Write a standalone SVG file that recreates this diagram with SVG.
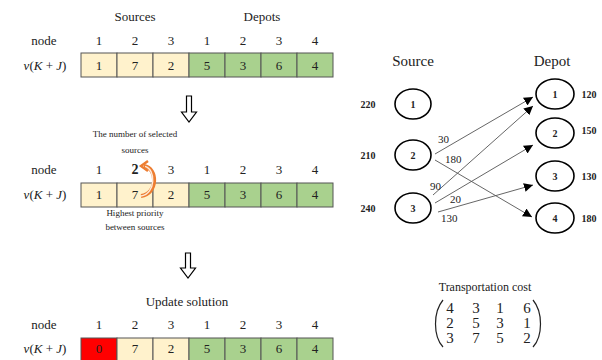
<svg xmlns="http://www.w3.org/2000/svg" width="602" height="360" viewBox="0 0 602 360">
<defs>
<style>
.t{font-family:"Liberation Serif","Times New Roman",serif;fill:#222}
.c{font-size:13px;text-anchor:middle}
.s{fill:#FFF2CC;stroke:#555;stroke-width:1}
.g{fill:#A9D18E;stroke:#555;stroke-width:1}
.r{fill:#FF0000;stroke:#555;stroke-width:1}
.nd{fill:#fff;stroke:#000;stroke-width:1.6}
.b{font-weight:bold;font-size:10px}
.e{stroke:#555;stroke-width:0.9;fill:none;marker-end:url(#ah)}
.el{font-size:11px}
.ha{fill:#fff;stroke:#000;stroke-width:1.2}
</style>
<marker id="ah" viewBox="0 0 10 10" refX="10" refY="5" markerWidth="9" markerHeight="9" markerUnits="userSpaceOnUse" orient="auto">
<path d="M0,0 L10,5 L0,10 z" fill="#000"/>
</marker>
<marker id="oh" viewBox="0 0 10 10" refX="5" refY="5" markerWidth="10" markerHeight="10" markerUnits="userSpaceOnUse" orient="auto">
<path d="M0,0 L10,5 L0,10" fill="none" stroke="#ED7D31" stroke-width="2.5"/>
</marker>
</defs>

<!-- Row 1 -->
<g id="row1">
<text class="t c" x="135" y="21">Sources</text>
<text class="t c" x="262" y="21">Depots</text>
<text class="t c" x="44" y="45">node</text>
<g class="t c">
<text x="99" y="45">1</text><text x="135" y="45">2</text><text x="171" y="45">3</text><text x="207" y="45">1</text><text x="243" y="45">2</text><text x="279" y="45">3</text><text x="315" y="45">4</text>
</g>
<text class="t c" x="45" y="70"><tspan font-style="italic">ν</tspan>(<tspan font-style="italic">K</tspan> + <tspan font-style="italic">J</tspan>)</text>
<rect class="s" x="81" y="53" width="36" height="24"/><rect class="s" x="117" y="53" width="36" height="24"/><rect class="s" x="153" y="53" width="36" height="24"/>
<rect class="g" x="189" y="53" width="36" height="24"/><rect class="g" x="225" y="53" width="36" height="24"/><rect class="g" x="261" y="53" width="36" height="24"/><rect class="g" x="297" y="53" width="36" height="24"/>
<g class="t c">
<text x="99" y="70">1</text><text x="135" y="70">7</text><text x="171" y="70">2</text><text x="207" y="70">5</text><text x="243" y="70">3</text><text x="279" y="70">6</text><text x="315" y="70">4</text>
</g>
</g>

<g id="arrow1">
<path class="ha" d="M186.5,96 H191.5 V112 H196.5 L189,122 L181.5,112 H186.5 Z"/>
</g>

<!-- Row 2 -->
<g id="row2">
<text class="t" x="135" y="137" font-size="9" text-anchor="middle">The number of selected</text>
<text class="t" x="135" y="153" font-size="9" text-anchor="middle">sources</text>
<text class="t c" x="44" y="174">node</text>
<g class="t c">
<text x="99" y="174">1</text><text x="135" y="174" font-weight="bold" font-size="14">2</text><text x="171" y="174">3</text><text x="207" y="174">1</text><text x="243" y="174">2</text><text x="279" y="174">3</text><text x="315" y="174">4</text>
</g>
<text class="t c" x="45" y="199"><tspan font-style="italic">ν</tspan>(<tspan font-style="italic">K</tspan> + <tspan font-style="italic">J</tspan>)</text>
<rect class="s" x="81" y="183" width="36" height="24"/><rect class="s" x="117" y="183" width="36" height="24"/><rect class="s" x="153" y="183" width="36" height="24"/>
<rect class="g" x="189" y="183" width="36" height="24"/><rect class="g" x="225" y="183" width="36" height="24"/><rect class="g" x="261" y="183" width="36" height="24"/><rect class="g" x="297" y="183" width="36" height="24"/>
<g class="t c">
<text x="99" y="199">1</text><text x="135" y="199">7</text><text x="171" y="199">2</text><text x="207" y="199">5</text><text x="243" y="199">3</text><text x="279" y="199">6</text><text x="315" y="199">4</text>
</g>
<text class="t" x="135" y="216" font-size="9" text-anchor="middle">Highest priority</text>
<text class="t" x="135" y="230" font-size="9" text-anchor="middle">between sources</text>
</g>

<g id="priority-arrow">
<path d="M141,196 C158,194 158,168 144,166" fill="none" stroke="#ED7D31" stroke-width="4"/>
<path d="M141,196 C156,194 156,169 145,166.5" fill="none" stroke="#FDE9D9" stroke-width="1.4"/>
<path d="M148,161 L141,166 L148,171" fill="none" stroke="#ED7D31" stroke-width="2.5"/>
</g>

<g id="arrow2">
<path class="ha" d="M185.5,253 H190.5 V268 H195.5 L188,278 L180.5,268 H185.5 Z"/>
</g>

<!-- Row 3 -->
<g id="row3">
<text class="t c" x="187" y="306">Update solution</text>
<text class="t c" x="44" y="329">node</text>
<g class="t c">
<text x="99" y="329">1</text><text x="135" y="329">2</text><text x="171" y="329">3</text><text x="207" y="329">1</text><text x="243" y="329">2</text><text x="279" y="329">3</text><text x="315" y="329">4</text>
</g>
<text class="t c" x="45" y="353"><tspan font-style="italic">ν</tspan>(<tspan font-style="italic">K</tspan> + <tspan font-style="italic">J</tspan>)</text>
<rect class="r" x="81" y="338" width="36" height="24"/><rect class="s" x="117" y="338" width="36" height="24"/><rect class="s" x="153" y="338" width="36" height="24"/>
<rect class="g" x="189" y="338" width="36" height="24"/><rect class="g" x="225" y="338" width="36" height="24"/><rect class="g" x="261" y="338" width="36" height="24"/><rect class="g" x="297" y="338" width="36" height="24"/>
<g class="t c">
<text x="99" y="353">0</text><text x="135" y="353">7</text><text x="171" y="353">2</text><text x="207" y="353">5</text><text x="243" y="353">3</text><text x="279" y="353">6</text><text x="315" y="353">4</text>
</g>
</g>

<!-- Graph -->
<text class="t" x="413" y="66" font-size="15" text-anchor="middle">Source</text>
<text class="t" x="552" y="66" font-size="15" text-anchor="middle">Depot</text>

<g id="connectors">
<line class="e" x1="435" y1="154" x2="533" y2="97"/>
<line class="e" x1="435" y1="160" x2="532" y2="217"/>
<line class="e" x1="433" y1="195" x2="533" y2="106"/>
<line class="e" x1="435" y1="203" x2="533" y2="145"/>
<line class="e" x1="438" y1="212" x2="533" y2="185"/>
<text class="t el" x="438" y="143">30</text>
<text class="t el" x="445" y="163">180</text>
<text class="t el" x="430" y="190">90</text>
<text class="t el" x="450" y="203">20</text>
<text class="t el" x="441" y="222">130</text>
</g>

<g id="src1"><ellipse class="nd" cx="413" cy="104" rx="18" ry="15"/><text class="t b" x="413" y="108" text-anchor="middle">1</text><text class="t b" x="368" y="108" text-anchor="middle">220</text></g>
<g id="src2"><ellipse class="nd" cx="413" cy="155" rx="18" ry="15"/><text class="t b" x="413" y="159" text-anchor="middle">2</text><text class="t b" x="368" y="159" text-anchor="middle">210</text></g>
<g id="src3"><ellipse class="nd" cx="413" cy="208" rx="18" ry="15"/><text class="t b" x="413" y="212" text-anchor="middle">3</text><text class="t b" x="368" y="212" text-anchor="middle">240</text></g>

<g id="dep1"><ellipse class="nd" cx="555" cy="94" rx="19" ry="15"/><text class="t b" x="555" y="98" text-anchor="middle">1</text><text class="t b" x="589" y="98" text-anchor="middle">120</text></g>
<g id="dep2"><ellipse class="nd" cx="555" cy="133" rx="19" ry="15"/><text class="t b" x="555" y="137" text-anchor="middle">2</text><text class="t b" x="589" y="134" text-anchor="middle">150</text></g>
<g id="dep3"><ellipse class="nd" cx="555" cy="176" rx="19" ry="15"/><text class="t b" x="555" y="180" text-anchor="middle">3</text><text class="t b" x="589" y="180" text-anchor="middle">130</text></g>
<g id="dep4"><ellipse class="nd" cx="555" cy="218" rx="19" ry="15"/><text class="t b" x="555" y="222" text-anchor="middle">4</text><text class="t b" x="589" y="222" text-anchor="middle">180</text></g>

<!-- Transportation cost -->
<g id="cost">
<text class="t" x="485" y="291" font-size="12" text-anchor="middle">Transportation cost</text>
<path d="M443,300 C433,312 433,336 443,347" fill="none" stroke="#222" stroke-width="1.2"/>
<path d="M533,300 C543,312 543,336 533,347" fill="none" stroke="#222" stroke-width="1.2"/>
<g class="t" font-size="15" text-anchor="middle">
<text x="450" y="313">4</text><text x="476" y="313">3</text><text x="500" y="313">1</text><text x="527" y="313">6</text>
<text x="450" y="328">2</text><text x="476" y="328">5</text><text x="500" y="328">3</text><text x="527" y="328">1</text>
<text x="450" y="343">3</text><text x="476" y="343">7</text><text x="500" y="343">5</text><text x="527" y="343">2</text>
</g>
</g>
</svg>
